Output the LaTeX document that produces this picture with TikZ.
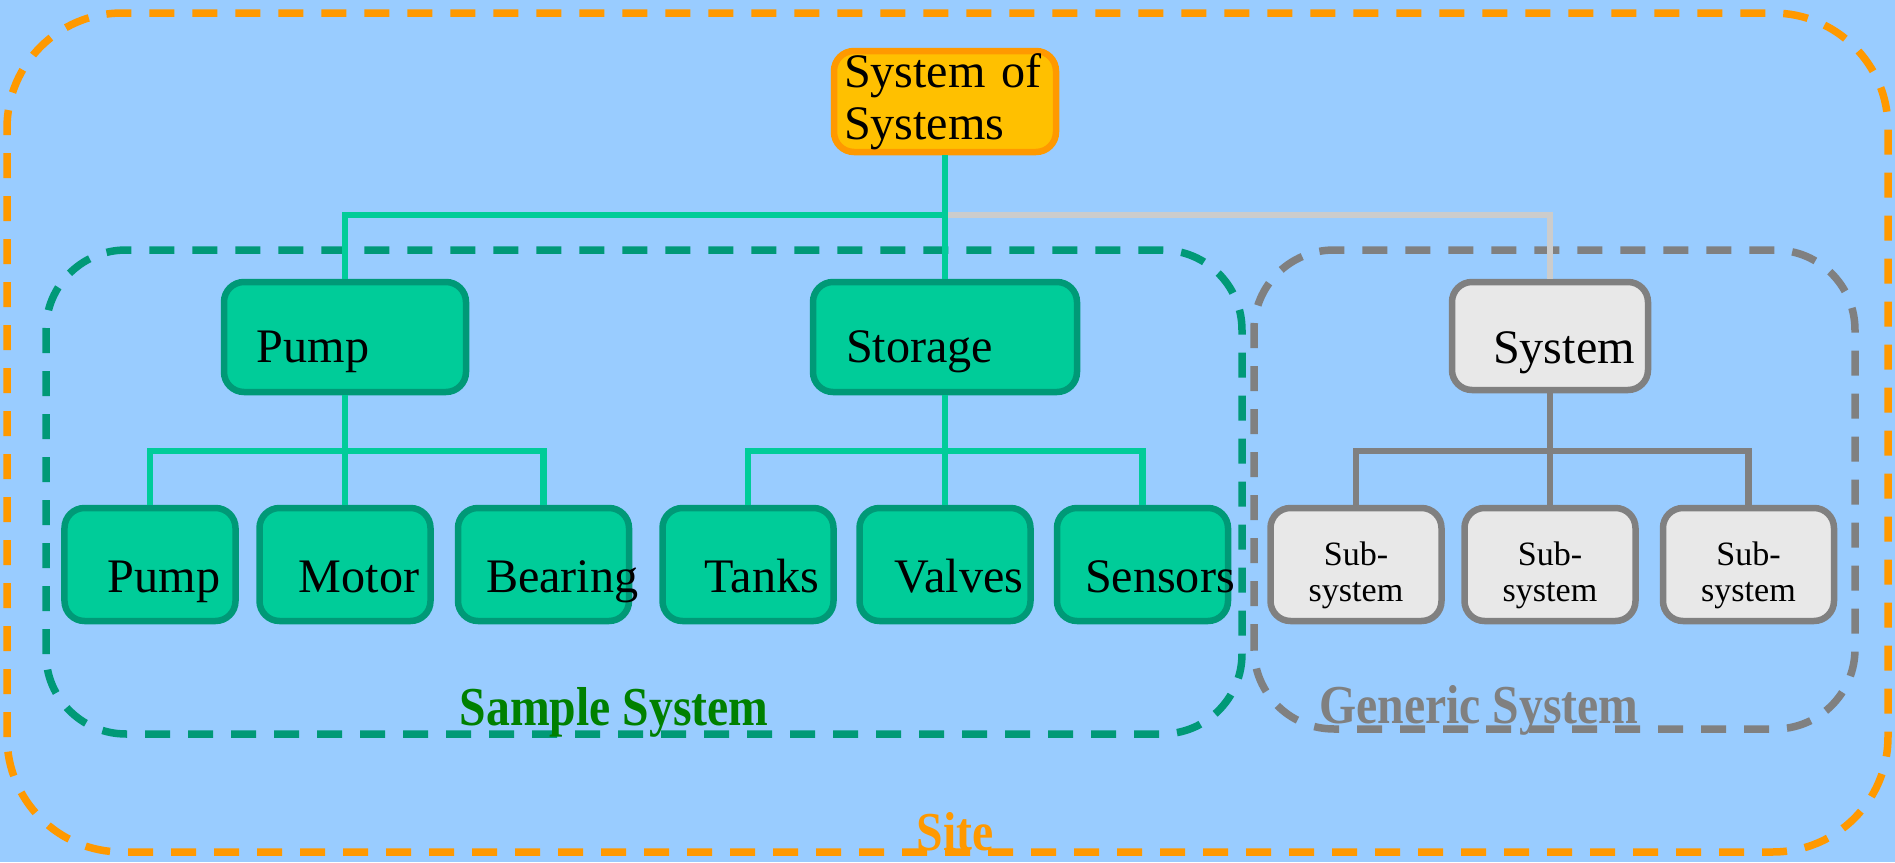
\documentclass[tikz,border=0pt]{standalone}
\usepackage{fontspec}
\setmainfont{Liberation Serif}
\newfontfamily\labelfont[FakeStretch=0.87]{Liberation Serif}
\usepackage{tikz}
\usetikzlibrary{calc}

\hyphenpenalty=10000
\exhyphenpenalty=10000

\definecolor{siteblue}{HTML}{99CCFF}
\definecolor{siteorange}{HTML}{FF9900}
\definecolor{rootgold}{HTML}{FFC000}
\definecolor{pumpgreen}{HTML}{00CC99}
\definecolor{pumpdark}{HTML}{009977}
\definecolor{labelgreen}{HTML}{008000}
\definecolor{genericgrey}{HTML}{808080}
\definecolor{boxgrey}{HTML}{E8E8E8}
\definecolor{linkgrey}{HTML}{CCCCCC}

\begin{document}
\begin{tikzpicture}[
        rootbox/.style={
            rectangle,
            rounded corners=0.2cm,
            draw=siteorange,
            fill=rootgold,
            line width=0.065cm,
            align=left,
            text width=2.02cm,
            minimum height=1.01cm,
            inner xsep=0.1cm,
            inner ysep=0pt,
            font=\fontsize{13.7pt}{14.8pt}\selectfont
        },
        midbox/.style={
            rectangle,
            rounded corners=0.2cm,
            draw=pumpdark,
            fill=pumpgreen,
            line width=0.065cm,
            align=left,
            minimum height=1.1cm,
            inner xsep=0.33cm,
            text height=0.58cm,
            text depth=0.08cm,
            font=\fontsize{13.7pt}{14.8pt}\selectfont
        },
        leaf/.style={
            rectangle,
            rounded corners=0.2cm,
            draw=pumpdark,
            fill=pumpgreen,
            line width=0.065cm,
            align=center,
            text width=1.71cm,
            minimum height=1.13cm,
            inner xsep=0pt,
            text height=0.62cm,
            text depth=0.06cm,
            font=\fontsize{13.7pt}{14.8pt}\selectfont,
            execute at begin node={\hspace*{0.28cm}}
        },
        sysbox/.style={
            rectangle,
            rounded corners=0.2cm,
            draw=genericgrey,
            fill=boxgrey,
            line width=0.065cm,
            align=center,
            text width=1.96cm,
            minimum height=1.08cm,
            inner xsep=0pt,
            text height=0.6cm,
            text depth=0.06cm,
            font=\fontsize{13.7pt}{14.8pt}\selectfont,
            execute at begin node={\hspace*{0.28cm}}
        },
        subbox/.style={
            rectangle,
            rounded corners=0.2cm,
            draw=genericgrey,
            fill=boxgrey,
            line width=0.065cm,
            align=center,
            text width=1.71cm,
            minimum height=1.13cm,
            inner xsep=0pt,
            text height=0.46cm,
            font=\fontsize{9.7pt}{10.3pt}\selectfont
        },
        grouplabel/.style={
            anchor=base,
            inner sep=0pt,
            font=\labelfont\bfseries\fontsize{15.6pt}{17pt}\selectfont
        },
        groupline/.style={
            line width=0.075cm,
            dash pattern=on 0.25cm off 0.18cm
        },
        tealrun/.style={
            draw=pumpgreen,
            line width=0.065cm
        },
        greyrun/.style={
            draw=genericgrey,
            line width=0.065cm
        }
    ]

        \useasboundingbox (0,0) rectangle (18.95,8.62);
        \fill[siteblue] (0,0) rectangle (18.95,8.62);

        % group outlines
        \draw[groupline, siteorange, rounded corners=1.15cm] (0.07,0.10) rectangle (18.88,8.49);
        \draw[groupline, pumpdark, rounded corners=0.8cm] (0.46,1.28) rectangle (12.42,6.12);
        \draw[groupline, genericgrey, rounded corners=0.8cm] (12.54,1.33) rectangle (18.55,6.12);

        \node[rootbox] (root) at (9.45,7.605) {System of\\Systems};

        \node[midbox, text width=1.76cm] (pump) at (3.45,5.25) {Pump};
        \node[midbox, text width=1.98cm] (storage) at (9.45,5.25) {Storage};
        \node[sysbox] (system) at (15.5,5.26) {System};

        \node[leaf] (pumpp) at (1.50,2.975) {Pump};
        \node[leaf] (motor) at (3.45,2.975) {Motor};
        \node[leaf] (bearing) at (5.435,2.975) {Bearing};
        \node[leaf] (tanks) at (7.48,2.975) {Tanks};
        \node[leaf] (valves) at (9.45,2.975) {Valves};
        \node[leaf] (sensors) at (11.425,2.975) {Sensors};

        \node[subbox] (subA) at (13.56,2.975) {Sub-\\system};
        \node[subbox] (subB) at (15.5,2.975) {Sub-\\system};
        \node[subbox] (subC) at (17.485,2.975) {Sub-\\system};

        \coordinate (topbus) at (9.45,6.47);
        \coordinate (pumpbus) at (3.45,4.11);
        \coordinate (storebus) at (9.45,4.11);
        \coordinate (sysbus) at (15.5,4.11);

        \draw[line width=0.065cm, linkgrey] (topbus) -| (system.north);
        \draw[tealrun] (root.south) -- (topbus) -| (pump.north);
        \draw[tealrun] (topbus) -- (storage.north);

        \draw[tealrun] (pump.south) -- (pumpbus);
        \draw[tealrun] (pumpp.north) |- (pumpbus) -| (bearing.north);
        \draw[tealrun] (pumpbus) -- (motor.north);

        \draw[tealrun] (storage.south) -- (storebus);
        \draw[tealrun] (tanks.north) |- (storebus) -| (sensors.north);
        \draw[tealrun] (storebus) -- (valves.north);

        \draw[greyrun] (system.south) -- (sysbus);
        \draw[greyrun] (subA.north) |- (sysbus) -| (subC.north);
        \draw[greyrun] (sysbus) -- (subB.north);

        \node[grouplabel, text=labelgreen] (samplelabel) at (6.14,1.37) {Sample System};
        \node[grouplabel, text=genericgrey] (genericlabel) at (14.79,1.39) {Generic System};
        \node[grouplabel, text=siteorange] (sitelabel) at (9.55,0.12) {Site};

    \end{tikzpicture}
\end{document}
